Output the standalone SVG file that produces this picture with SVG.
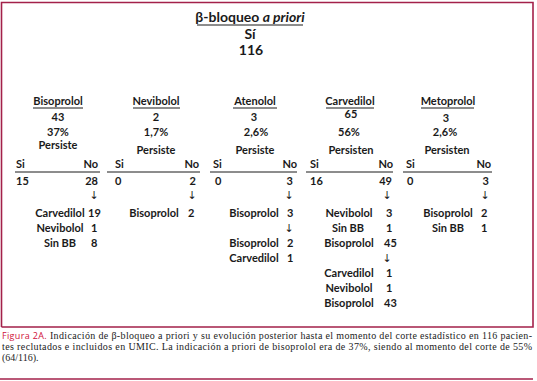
<svg xmlns="http://www.w3.org/2000/svg" width="537" height="381" viewBox="0 0 537 381">
<style>
text{font-family:Lato,"Liberation Sans",sans-serif;font-weight:bold;fill:#1a1a1a;font-size:11px}
.c{text-anchor:middle}
.e{text-anchor:end}
.ttl{font-size:14px}
.ln{stroke:#1a1a1a;stroke-width:1;fill:none}
.fr{stroke:#a3214a;stroke-width:1.6;fill:none}
.ar{font-family:"DejaVu Sans",sans-serif;font-weight:normal;font-size:11px;text-anchor:middle}
.cap{font-family:"Liberation Serif",serif;font-weight:normal;font-size:10px;fill:#222}
.capr{font-family:"Open Sans",sans-serif;font-weight:normal;font-size:9px;fill:#d0103a}
</style>
<rect width="537" height="381" fill="#fff"/>
<path class="fr" d="M1.5,327 V2.5 H533 V327 H1.5"/>
<line class="fr" x1="0" y1="379" x2="533" y2="379"/>

<g id="root">
<text class="c ttl" x="250" y="22">β-bloqueo <tspan font-style="italic">a priori</tspan></text>
<line class="ln" x1="197" y1="25" x2="303" y2="25"/>
<text class="c ttl" x="250" y="39">Sí</text>
<text class="c ttl" x="251" y="55">116</text>
</g>

<g id="bisoprolol">
<text class="c" x="58" y="105">Bisoprolol</text>
<line class="ln" x1="33" y1="108" x2="83" y2="108"/>
<text class="c" x="58" y="121">43</text>
<text class="c" x="58" y="136">37%</text>
<text class="c" x="58" y="149">Persiste</text>
<text x="16" y="168">Si</text><text class="e" x="98" y="168">No</text>
<line class="ln" x1="15" y1="172" x2="100" y2="172"/>
<text x="16" y="185">15</text><text class="e" x="98" y="185">28</text>
<text class="ar" x="94" y="199">↓</text>
<text class="c" x="60" y="217">Carvedilol</text><text x="88" y="217">19</text>
<text class="c" x="60" y="232">Nevibolol</text><text x="91" y="232">1</text>
<text class="c" x="60" y="247">Sin BB</text><text x="91" y="247">8</text>
</g>

<g id="nevibolol">
<text class="c" x="156" y="105">Nevibolol</text>
<line class="ln" x1="133" y1="108" x2="180" y2="108"/>
<text class="c" x="156" y="121">2</text>
<text class="c" x="156" y="136">1,7%</text>
<text class="c" x="156" y="154">Persiste</text>
<text x="115" y="168">Si</text><text class="e" x="199" y="168">No</text>
<line class="ln" x1="107" y1="172" x2="200" y2="172"/>
<text x="115" y="185">0</text><text class="e" x="196" y="185">2</text>
<text class="ar" x="192" y="199">↓</text>
<text class="c" x="154" y="217">Bisoprolol</text><text x="188" y="217">2</text>
</g>

<g id="atenolol">
<text class="c" x="255" y="105">Atenolol</text>
<line class="ln" x1="233" y1="108" x2="277" y2="108"/>
<text class="c" x="254" y="121">3</text>
<text class="c" x="256" y="136">2,6%</text>
<text class="c" x="255" y="154">Persiste</text>
<text x="213" y="168">Si</text><text class="e" x="297" y="168">No</text>
<line class="ln" x1="210" y1="172" x2="297" y2="172"/>
<text x="215" y="185">0</text><text class="e" x="293" y="185">3</text>
<text class="ar" x="289" y="199" fill="#888">↓</text>
<text class="c" x="254" y="217">Bisoprolol</text><text x="287" y="217">3</text>
<text class="ar" x="289" y="232" fill="#888">↓</text>
<text class="c" x="254" y="247">Bisoprolol</text><text x="287" y="247">2</text>
<text class="c" x="254" y="262">Carvedilol</text><text x="287" y="262">1</text>
</g>

<g id="carvedilol">
<text class="c" x="350" y="105">Carvedilol</text>
<line class="ln" x1="326" y1="108" x2="374" y2="108"/>
<text class="c" x="351" y="118">65</text>
<text class="c" x="349" y="136">56%</text>
<text class="c" x="351" y="154">Persisten</text>
<text x="310" y="168">Si</text><text class="e" x="393" y="168">No</text>
<line class="ln" x1="306" y1="172" x2="393" y2="172"/>
<text x="310" y="185">16</text><text class="e" x="392" y="185">49</text>
<text class="ar" x="387" y="199" fill="#888">↓</text>
<text class="c" x="349" y="217">Nevibolol</text><text x="386" y="217">3</text>
<text class="c" x="348" y="232">Sin BB</text><text x="386" y="232">1</text>
<text class="c" x="349" y="247">Bisoprolol</text><text x="384" y="247">45</text>
<text class="ar" x="387" y="262" fill="#888">↓</text>
<text class="c" x="349" y="277">Carvedilol</text><text x="386" y="277">1</text>
<text class="c" x="349" y="292">Nevibolol</text><text x="386" y="292">1</text>
<text class="c" x="349" y="307">Bisoprolol</text><text x="384" y="307">43</text>
</g>

<g id="metoprolol">
<text class="c" x="448" y="105">Metoprolol</text>
<line class="ln" x1="421" y1="108" x2="474" y2="108"/>
<text class="c" x="446" y="122">3</text>
<text class="c" x="445" y="136">2,6%</text>
<text class="c" x="447" y="154">Persisten</text>
<text x="406" y="168">Si</text><text class="e" x="491" y="168">No</text>
<line class="ln" x1="403" y1="172" x2="492" y2="172"/>
<text x="407" y="185">0</text><text class="e" x="489" y="185">3</text>
<text class="ar" x="485" y="199">↓</text>
<text class="c" x="448" y="217">Bisoprolol</text><text x="481" y="217">2</text>
<text class="c" x="448" y="232">Sin BB</text><text x="481" y="232">1</text>
</g>

<g id="caption">
<text x="2" y="339" class="cap" textLength="530" lengthAdjust="spacing"><tspan class="capr">Figura 2A.</tspan> Indicación de β-bloqueo a priori y su evolución posterior hasta el momento del corte estadístico en 116 pacien-</text>
<text x="2" y="350" class="cap" textLength="530" lengthAdjust="spacing">tes reclutados e incluidos en UMIC. La indicación a priori de bisoprolol era de 37%, siendo al momento del corte de 55%</text>
<text x="2" y="361" class="cap">(64/116).</text>
</g>
</svg>
